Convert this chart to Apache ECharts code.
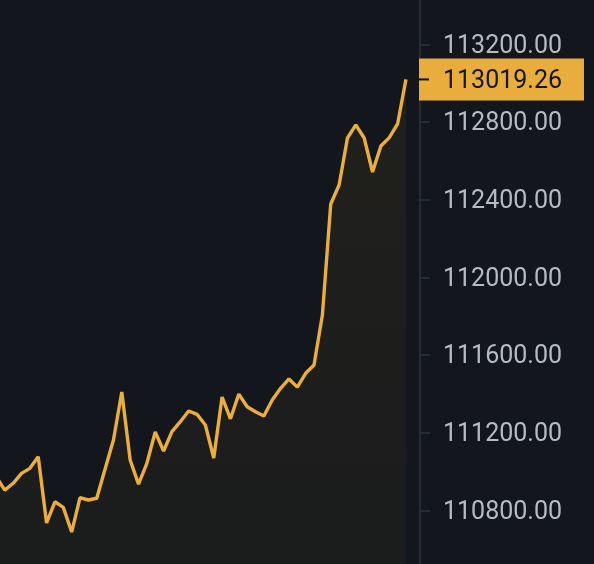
<!DOCTYPE html>
<html>
<head>
<meta charset="utf-8">
<script src="https://cdn.jsdelivr.net/npm/echarts@6/dist/echarts.min.js"></script>
<style>
html,body{margin:0;padding:0;background:#13161d;}
#chart{width:594px;height:564px;}
</style>
</head>
<body>
<div id="chart"></div>
<script>
// price samples (oldest -> newest)
const prices = [110973, 110906, 110941, 110992, 111018, 111078, 110737, 110846, 110817, 110690,
  110867, 110855, 110864, 111015, 111164, 111411, 111061, 110937, 111044, 111205,
  111107, 111207, 111258, 111313, 111296, 111241, 111071, 111385, 111273, 111400,
  111335, 111309, 111287, 111370, 111430, 111478, 111436, 111507, 111550, 111807,
  112378, 112476, 112718, 112785, 112718, 112543, 112677, 112720, 112790, 113019.26];
const yTicks = [110800, 111200, 111600, 112000, 112400, 112800, 113200];
const lastPrice = 113019.26;

const lineColor = '#ebae3b';
const seriesData = prices.map((v, i) => [i, v]);

const chart = echarts.init(document.getElementById('chart'), null, {renderer: 'canvas'});
chart.setOption({
  backgroundColor: '#13161d',
  animation: false,
  grid: {left: 0, right: 174, top: 0, bottom: 0, containLabel: false},
  xAxis: {
    type: 'value', min: 0.426, max: 50.68, show: false
  },
  yAxis: {
    type: 'value', position: 'right', min: 110525.7, max: 113428, scale: true,
    axisLine: {show: true, lineStyle: {color: '#272b35', width: 2}},
    axisTick: {show: true, length: 10, customValues: yTicks, lineStyle: {color: '#272b35', width: 2}},
    axisLabel: {
      show: true, customValues: yTicks, margin: 23,
      formatter: v => '{a|' + Number(v).toFixed(2) + '}',
      rich: {
        a: {padding: [4, 0, 0, 0], color: '#b7bcc4', fontFamily: 'Roboto', fontSize: 25, lineHeight: 26}
      }
    },
    splitLine: {show: false}
  },
  series: [{
    type: 'line',
    data: seriesData,
    symbol: 'none',
    smooth: false,
    clip: true,
    z: 3,
    lineStyle: {color: lineColor, width: 3.4},
    areaStyle: {
      origin: 'start',
      color: new echarts.graphic.LinearGradient(0, 0, 0, 1, [
        {offset: 0, color: 'rgba(240,185,11,0.085)'},
        {offset: 1, color: 'rgba(240,185,11,0.05)'}
      ])
    },
    markLine: {
      silent: true,
      symbol: ['none', 'none'],
      animation: false,
      lineStyle: {color: 'rgba(0,0,0,0)', width: 1, type: 'solid'},
      emphasis: {disabled: true},
      label: {
        show: true, position: 'end', distance: -1,
        backgroundColor: '#e9ad3b',
        padding: [10, 22, 10, 0],
        formatter: () => '{t|}{v|' + lastPrice.toFixed(2) + '}',
        rich: {
          t: {width: 10, height: 2, backgroundColor: '#0d0e12'},
          v: {padding: [4, 0, 0, 14], fontFamily: 'Roboto', fontSize: 25, lineHeight: 22, color: '#14151a'}
        }
      },
      data: [{yAxis: lastPrice}]
    }
  }]
});
</script>
</body>
</html>
